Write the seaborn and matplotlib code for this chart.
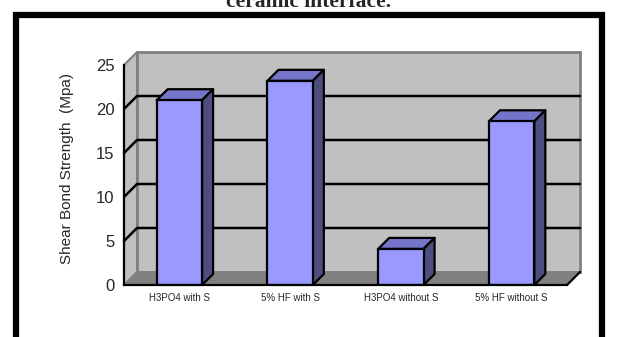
import numpy as np
import pandas as pd
import matplotlib
matplotlib.use("Agg")
import matplotlib.pyplot as plt
import seaborn as sns
from matplotlib.patches import Polygon, Rectangle
from matplotlib.lines import Line2D
from matplotlib.transforms import IdentityTransform

categories = ["H3PO4 with S", "5% HF with S", "H3PO4 without S", "5% HF without S"]
strength = [21.0, 23.2, 4.1, 18.6]
yticks = [0, 5, 10, 15, 20, 25]
ylabel = "Shear Bond Strength  (Mpa)"
title = "ceramic interface."

sns.set_style("white")
plt.rcParams["font.family"] = ["Liberation Sans", "DejaVu Sans"]

W, H = 617, 337
fig = plt.figure(figsize=(W / 100, H / 100), dpi=100)
ax = fig.add_axes([124 / W, (H - 285) / H, (567 - 124) / W, 220 / H])

df = pd.DataFrame({"cat": categories, "val": strength})
sns.barplot(data=df, x="cat", y="val", color="#9999FF", width=0.41,
            saturation=1, edgecolor="black", linewidth=1.6, ax=ax, zorder=5)
ax.set_xlim(-0.5, 3.5)
ax.set_ylim(0, 25)
ax.set_xlabel("")
ax.set_ylabel(ylabel, fontsize=11)
ax.yaxis.set_label_coords(-0.112, 0.53)
ax.set_yticks(yticks)
ax.set_yticklabels([str(t) for t in yticks])
ax.tick_params(axis="y", direction="out", length=5, width=1.5, labelsize=12, pad=2, color="black")
ax.set_xticks(range(len(categories)))
ax.set_xticklabels(categories, fontsize=7)
ax.tick_params(axis="x", which="major", length=0, pad=6)
ax.set_xticks([-0.5, 0.5, 1.5, 2.5, 3.5], minor=True)
ax.tick_params(axis="x", which="minor", direction="out", length=4, width=1.5, color="black")
for s in ["top", "right"]:
    ax.spines[s].set_visible(False)
for s in ["left", "bottom"]:
    ax.spines[s].set_color("black")
    ax.spines[s].set_linewidth(1.6)
    ax.spines[s].set_zorder(6)
ax.patch.set_alpha(0)

fig.canvas.draw()
IT = IdentityTransform()
WALL = np.array([13.0, 13.0])
BAR = np.array([11.0, 11.0])

def d(x, y, off=(0, 0)):
    return ax.transData.transform((x, y)) + np.asarray(off)

x0, x1 = -0.5, 3.5
ytop = yticks[-1]

# side wall
side = Polygon([d(x0, 0), d(x0, ytop), d(x0, ytop, WALL), d(x0, 0, WALL)],
               closed=True, transform=IT, fc="#C0C0C0", ec="#808080", lw=1.5,
               clip_on=False, zorder=0)
fig.add_artist(side)
# back wall
back = Polygon([d(x0, 0, WALL), d(x1, 0, WALL), d(x1, ytop, WALL), d(x0, ytop, WALL)],
               closed=True, transform=IT, fc="#C0C0C0", ec="#808080", lw=2,
               clip_on=False, zorder=0)
fig.add_artist(back)
# floor
floor = Polygon([d(x0, 0), d(x1, 0), d(x1, 0, WALL), d(x0, 0, WALL)],
                closed=True, transform=IT, fc="#808080", ec="#808080", lw=1,
                clip_on=False, zorder=0.5)
fig.add_artist(floor)
# floor right edge
p = np.array([d(x1, 0), d(x1, 0, WALL)])
fig.add_artist(Line2D(p[:, 0], p[:, 1], transform=IT, color="black", lw=1.6, zorder=1))

# gridlines
for v in yticks[1:-1]:
    p = np.array([d(x0, v), d(x0, v, WALL), d(x1, v, WALL)])
    fig.add_artist(Line2D(p[:, 0], p[:, 1], transform=IT, color="black", lw=1.8, zorder=1))

# 3D faces for bars
for bar in ax.patches:
    bx, bw, bh = bar.get_x(), bar.get_width(), bar.get_height()
    top = Polygon([d(bx, bh), d(bx + bw, bh), d(bx + bw, bh, BAR), d(bx, bh, BAR)],
                  closed=True, transform=IT, fc="#7474C8", ec="black", lw=1.6,
                  zorder=3, joinstyle="round")
    sidef = Polygon([d(bx + bw, 0), d(bx + bw, bh), d(bx + bw, bh, BAR), d(bx + bw, 0, BAR)],
                    closed=True, transform=IT, fc="#4D4D80", ec="black", lw=1.6,
                    zorder=3, joinstyle="round")
    fig.add_artist(top)
    fig.add_artist(sidef)
ax.set_zorder(4)

# outer black frame and cut title (cut off at the top, as in the source)
fig.add_artist(Rectangle((16 / W, -0.1), (602 - 16) / W, (H - 15) / H + 0.1,
                         transform=fig.transFigure, fill=False, ec="black", lw=4.5))
fig.text(309 / W, (H - 7) / H, title, ha="center", va="baseline", fontsize=15.5,
         fontweight="bold", family=["Liberation Serif", "DejaVu Serif"])

fig.savefig("out.png", dpi=100)
